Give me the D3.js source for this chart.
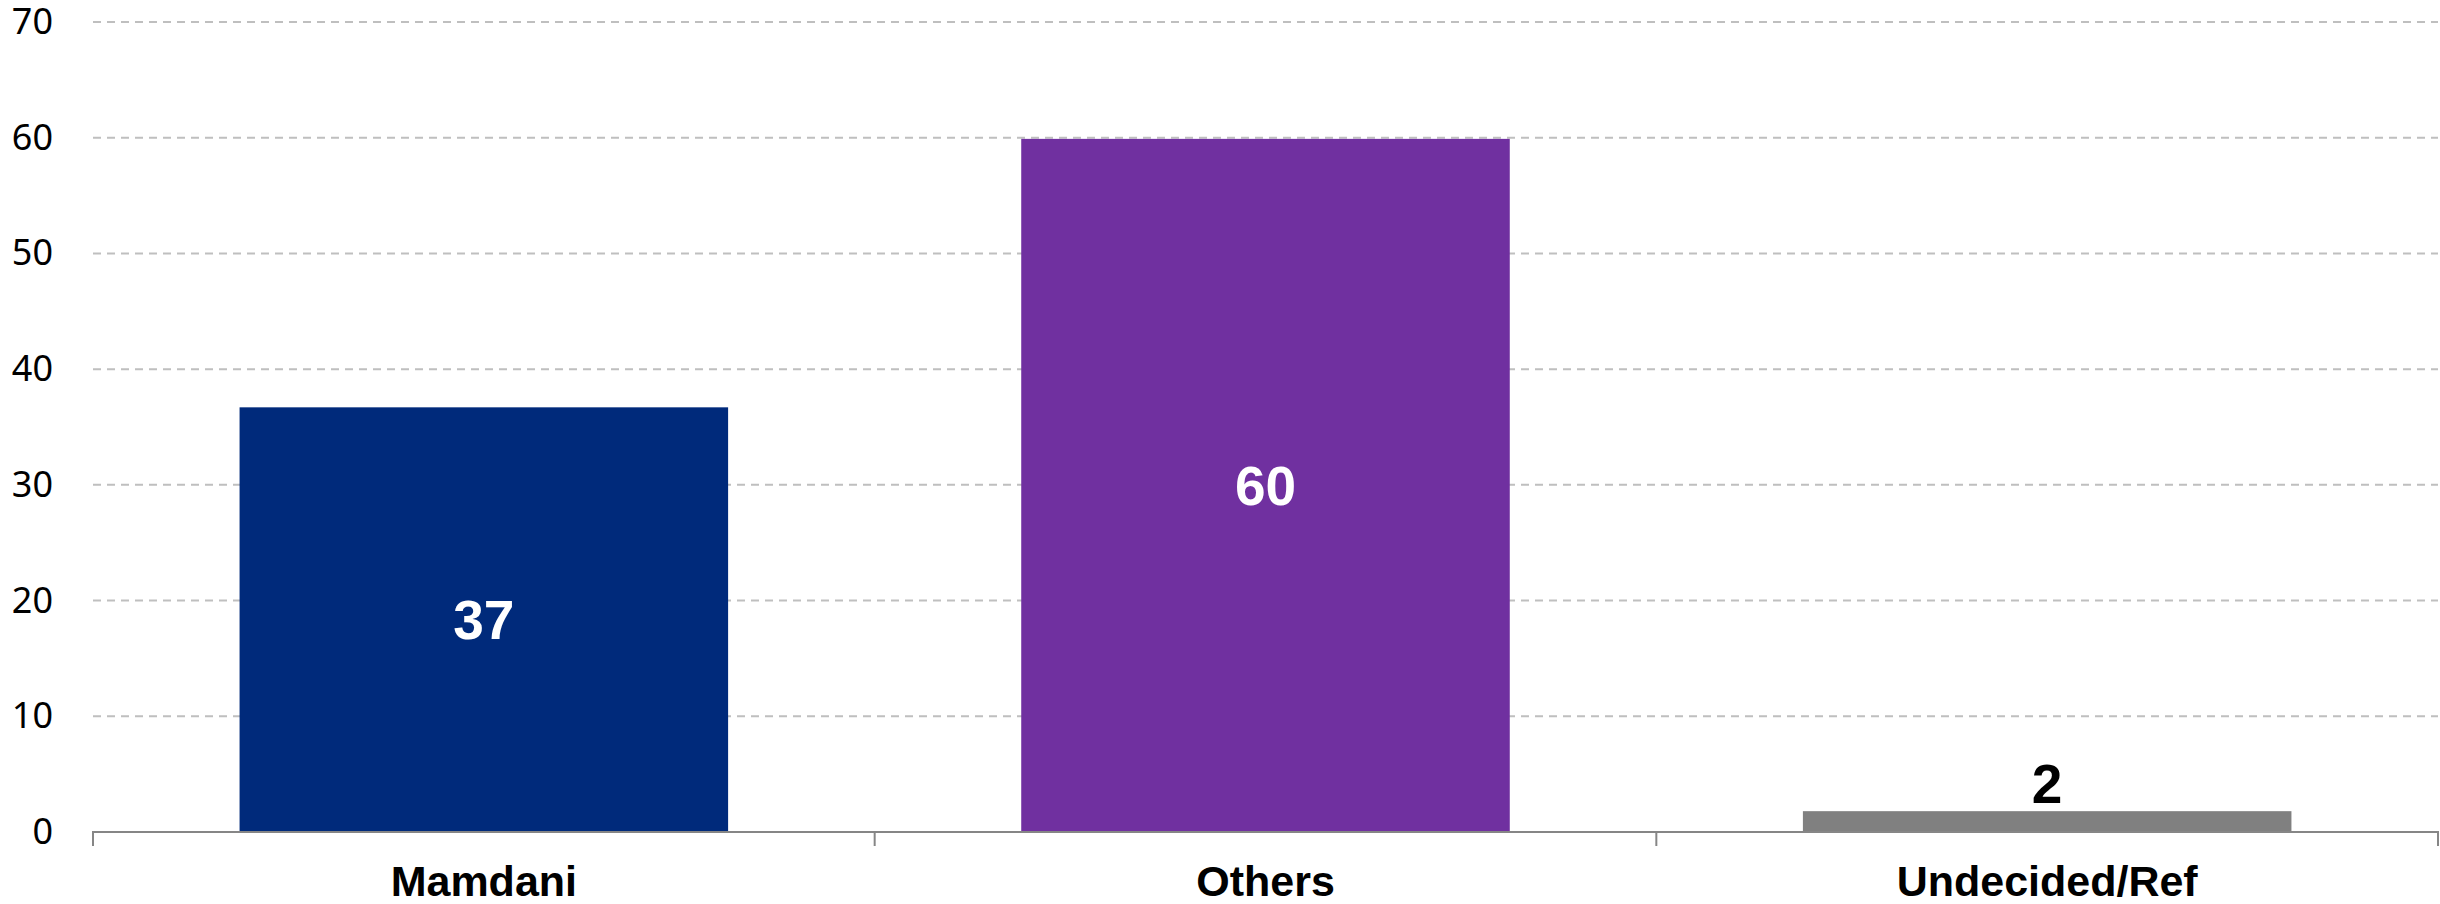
<!DOCTYPE html>
<html>
<head>
<meta charset="utf-8">
<script src="https://cdn.jsdelivr.net/npm/d3@7"></script>
<style>
  html, body { margin: 0; padding: 0; background: #fff; }
  svg { display: block; }
</style>
</head>
<body>
<svg id="chart" width="2440" height="904"></svg>
<script>
// ---- data ----
const categories = ["Mamdani", "Others", "Undecided/Ref"];
const values = [36.7, 59.9, 1.8];
const barColors = ["#002A7B", "#7030A0", "#808080"];
const yTickValues = [0, 10, 20, 30, 40, 50, 60, 70];

// ---- layout ----
const W = 2440, H = 904;
const plot = { left: 93, right: 2438, top: 22, bottom: 832 };

const svg = d3.select("#chart");

const x = d3.scaleBand()
  .domain(categories)
  .range([plot.left, plot.right])
  .paddingInner(0)
  .paddingOuter(0);

const y = d3.scaleLinear()
  .domain([0, 70])
  .range([plot.bottom, plot.top]);

const barW = x.bandwidth() / 1.6; // Excel gap width 60%

// gridlines
svg.append("g")
  .selectAll("line")
  .data(yTickValues.filter(v => v > 0))
  .join("line")
  .attr("x1", plot.left)
  .attr("x2", plot.right)
  .attr("y1", d => y(d))
  .attr("y2", d => y(d))
  .attr("stroke", "#BFBFBF")
  .attr("stroke-width", 2)
  .attr("stroke-dasharray", "8,6");

// y axis labels
const yAxis = svg.append("g")
  .attr("transform", `translate(${plot.left},0)`)
  .call(d3.axisLeft(y).tickValues(yTickValues).tickSize(0).tickPadding(40).tickFormat(d3.format("d")));
yAxis.select(".domain").remove();
yAxis.selectAll("text")
  .attr("font-family", "'Noto Sans', sans-serif")
  .attr("font-size", 36)
  .attr("fill", "#000");

// bars
const data = categories.map((c, i) => ({ c, v: values[i], color: barColors[i] }));

svg.append("g")
  .selectAll("rect")
  .data(data)
  .join("rect")
  .attr("x", d => x(d.c) + (x.bandwidth() - barW) / 2)
  .attr("width", barW)
  .attr("y", d => y(d.v))
  .attr("height", d => y(0) - y(d.v))
  .attr("fill", d => d.color);

// x axis line + boundary ticks
const xAxis = svg.append("g")
  .attr("transform", `translate(0,${plot.bottom})`)
  .call(d3.axisBottom(x).tickSize(0).tickPadding(33));
xAxis.select(".domain")
  .attr("stroke", "#868686")
  .attr("stroke-width", 2)
  .attr("d", `M${plot.left},14V0H${plot.right}V14`);
xAxis.selectAll("text")
  .attr("font-family", "'Liberation Sans', Arial, sans-serif")
  .attr("font-weight", "bold")
  .attr("font-size", 43)
  .attr("fill", "#000");

const boundaries = categories.slice(1).map(c => x(c));
xAxis.append("g")
  .selectAll("line")
  .data(boundaries)
  .join("line")
  .attr("x1", d => d).attr("x2", d => d)
  .attr("y1", 0).attr("y2", 14)
  .attr("stroke", "#868686")
  .attr("stroke-width", 2);

// data labels
const fmt = d3.format(".0f");
svg.append("g")
  .selectAll("text")
  .data(data)
  .join("text")
  .attr("x", d => x(d.c) + x.bandwidth() / 2)
  .attr("y", d => d.v >= 10 ? (y(d.v) + y(0)) / 2 : y(d.v) - 8)
  .attr("dy", d => d.v >= 10 ? "0.35em" : "0")
  .attr("text-anchor", "middle")
  .attr("font-family", "'Liberation Sans', Arial, sans-serif")
  .attr("font-weight", "bold")
  .attr("font-size", 55)
  .attr("fill", d => d.v >= 10 ? "#fff" : "#000")
  .text(d => fmt(d.v));
</script>
</body>
</html>
